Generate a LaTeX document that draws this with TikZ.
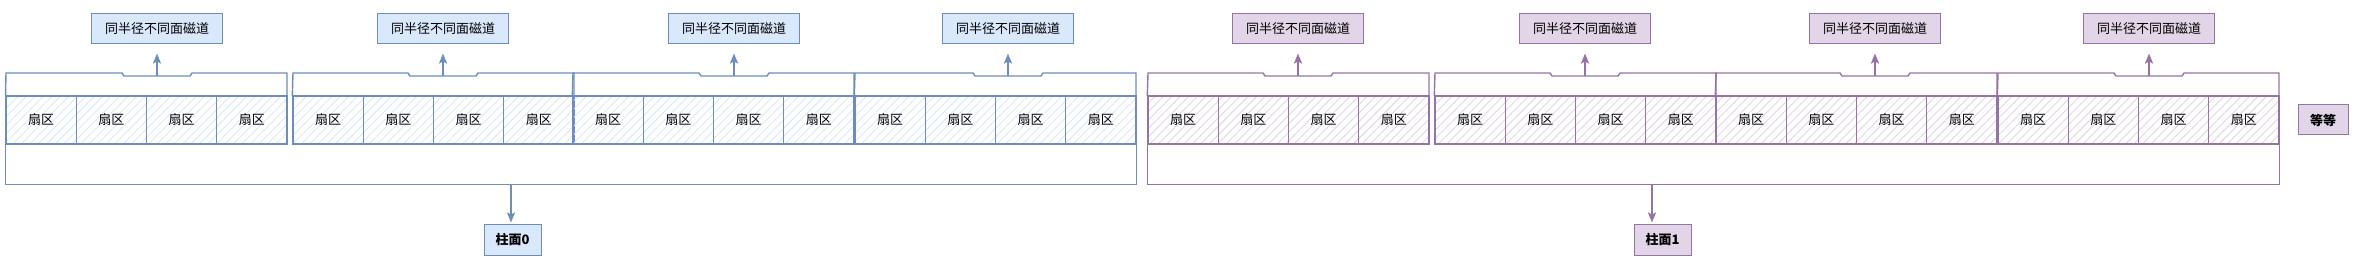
\documentclass[tikz,border=0pt]{standalone}
\usepackage{fontspec}
\setmainfont{Noto Sans CJK SC}
\usetikzlibrary{arrows.meta,patterns.meta}

\definecolor{bfill}{HTML}{DAE8FC}
\definecolor{bline}{HTML}{6C8EBF}
\definecolor{pfill}{HTML}{E1D5E7}
\definecolor{pline}{HTML}{9673A6}

\begin{document}
\begin{tikzpicture}[
  x=1pt,y=-1pt,
  font=\fontsize{13}{15}\selectfont,
  sec/.style={draw=#1line,line width=1.4pt,minimum width=70.25pt,minimum height=48pt,inner sep=0pt,
    pattern={Lines[angle=45,distance=6pt,line width=0.9pt]},pattern color=#1fill},
  lab/.style={draw=#1line,fill=#1fill,line width=1pt,minimum width=131pt,minimum height=30pt,inner sep=0pt},
  tag/.style={lab=#1,minimum width=57pt,minimum height=31pt,font=\fontsize{13}{15}\selectfont\bfseries},
  brace/.style={draw=#1line,line width=1.4pt},
  arr/.style={draw=#1line,fill=#1line,line width=2pt,shorten >=1pt,
    -{Stealth[length=10pt,width=8pt,inset=2pt]}}
]
\useasboundingbox (0,0) rectangle (2359,267);

% Tracks: 4 sectors each
\foreach \g/\gx/\ax/\col in {1/6/157/b,2/293/443/b,3/573/734/b,4/855/1008/b,
                             5/1148/1298/p,6/1435/1585/p,7/1716/1875/p,8/1998/2149/p} {
  \foreach \s in {0,...,3}
    \node[sec=\col] (s\g\s) at (\gx+35.125+\s*70.25,120) {扇区};
  \draw[brace=\col] (s\g0.south west |- 0,96) -- (\gx,73) -- (\ax-35,73) -- (\ax-33,76)
    -- (\ax+33,76) -- (\ax+35,73) -- (\gx+281,73) -- (\gx+281,96);
  \coordinate (t\g) at (\ax,76);
  \node[lab=\col] (trk\g) at (\ax,29) {同半径不同面磁道};
  \draw[arr=\col,shorten >=9pt] (t\g) -- (trk\g);
}

% Cylinder 0
\draw[brace=b] (s10.south west) -- ++(0,40) -| (s43.south east);
\coordinate (c0) at (511,184);
\node[tag=b] (cyl0) at (512.5,239.5) {柱面0};
\draw[arr=b] (c0) -- (c0 |- cyl0.north);

% Cylinder 1
\draw[brace=p] (s50.south west) -- ++(0,40) -| (s83.south east);
\coordinate (c1) at (1652,184);
\node[tag=p] (cyl1) at (1662.5,239.5) {柱面1};
\draw[arr=p] (c1) -- (c1 |- cyl1.north);

\node[tag=p,minimum width=50pt,minimum height=30pt] (etc) at (2323,120) {等等};
\end{tikzpicture}
\end{document}
